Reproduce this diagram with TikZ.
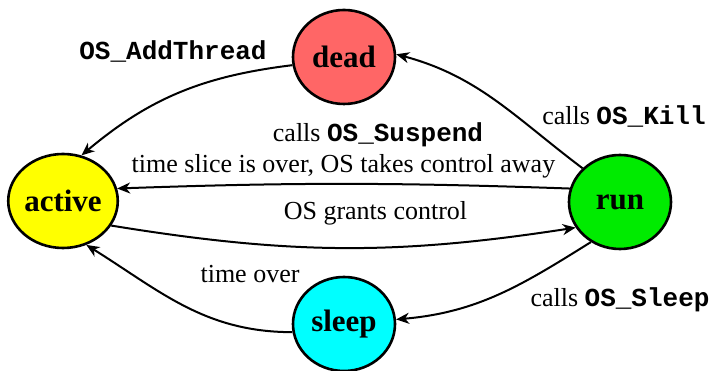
\documentclass[tikz,border=0pt]{standalone}
\usepackage{fontspec}
\setmainfont{Liberation Serif}
\setmonofont{Liberation Mono}
\usetikzlibrary{arrows.meta,shapes.geometric}
\definecolor{deadc}{RGB}{255,102,102}
\definecolor{activec}{RGB}{255,255,0}
\definecolor{runc}{RGB}{0,235,0}
\definecolor{sleepc}{RGB}{0,255,255}
\begin{document}
\begin{tikzpicture}[x=1pt,y=1pt,
  state/.style={ellipse, draw, line width=2.6pt, minimum width=102pt, minimum height=94pt, inner sep=0pt, font=\fontsize{31}{36}\selectfont\bfseries},
  trans/.style={line width=2pt, -{Stealth[length=13pt,width=11pt,inset=4pt]}},
  lbl/.style={font=\fontsize{26}{30}\selectfont, inner sep=0pt, anchor=base}]
\useasboundingbox (0,0) rectangle (711,371);
\node[state, fill=deadc] (dead) at (344,314) {dead};
\node[state, fill=activec] (active) at (63,170) {active};
\node[state, fill=runc] (run) at (620,169) {run};
\node[state, fill=sleepc] (sleep) at (344,47) {sleep};

\draw[trans] (dead.189) to[out=187, in=40] (active.68);
\draw[trans] (run.138) to[out=143, in=-15] (dead.3);
\draw[trans] (run.165) to[bend right=2] (active.13);
\draw[trans] (active.-27) to[bend right=9] (run.210);
\draw[trans] (run.234) to[out=212, in=5] (sleep.5);
\draw[trans] (sleep.189) to[out=180, in=-32] (active.-62);

\node[lbl] (l1) at (173,311) {\texttt{\textbf{OS\_AddThread}}};
\node[lbl] (l2) at (624,246) {calls \texttt{\textbf{OS\_Kill}}};
\node[lbl] (l3) at (378,229) {calls \texttt{\textbf{OS\_Suspend}}};
\node[lbl] (l4) at (343.5,198) {time slice is over, OS takes control away};
\node[lbl] (l5) at (375.5,151) {OS grants control};
\node[lbl] (l6) at (620,64) {calls \texttt{\textbf{OS\_Sleep}}};
\node[lbl] (l7) at (250,88) {time over};
\end{tikzpicture}
\end{document}
